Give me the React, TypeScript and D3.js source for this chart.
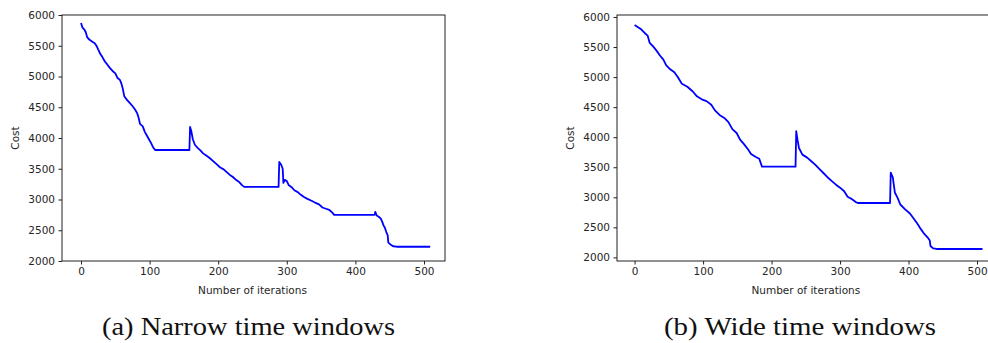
import React, { useEffect, useRef } from 'react';
import * as d3 from 'd3';

// [iteration, cost]
const narrowRun: [number, number][] = [
  [0, 5870], [2, 5800], [5, 5760], [7, 5720], [9, 5640], [12, 5600], [16, 5570], [20, 5540],
  [23, 5490], [25, 5440], [28, 5370], [31, 5320], [35, 5240], [38, 5200], [42, 5140], [46, 5090],
  [50, 5050], [53, 4980], [57, 4940], [59, 4880], [61, 4800], [63, 4680], [67, 4620], [71, 4570],
  [75, 4520], [79, 4460], [82, 4400], [84, 4330], [86, 4230], [90, 4190], [93, 4100], [96, 4040],
  [99, 3980], [102, 3920], [105, 3850], [108, 3805], [158, 3805], [159, 4180], [161, 4100],
  [163, 3980], [166, 3890], [170, 3840], [174, 3800], [178, 3750], [183, 3710], [188, 3670],
  [193, 3620], [198, 3570], [203, 3520], [208, 3490], [212, 3450], [217, 3400], [221, 3370],
  [226, 3320], [231, 3280], [235, 3230], [238, 3205], [288, 3205], [289, 3610], [292, 3560],
  [294, 3500], [295, 3270], [297, 3320], [300, 3300], [303, 3230], [307, 3200], [311, 3150],
  [316, 3120], [320, 3080], [325, 3040], [330, 3010], [336, 2980], [341, 2950], [347, 2920],
  [352, 2870], [357, 2850], [362, 2830], [366, 2790], [369, 2750], [428, 2750], [429, 2800],
  [431, 2740], [434, 2720], [437, 2690], [439, 2640], [441, 2580], [443, 2540], [445, 2470],
  [447, 2420], [448, 2300], [451, 2270], [455, 2240], [460, 2232], [509, 2232],
];

const wideRun: [number, number][] = [
  [0, 5865], [5, 5830], [10, 5790], [15, 5730], [19, 5690], [22, 5570], [27, 5510], [32, 5440],
  [37, 5360], [42, 5290], [46, 5200], [52, 5130], [58, 5080], [63, 5000], [69, 4890], [77, 4840],
  [85, 4760], [91, 4680], [98, 4630], [105, 4600], [112, 4540], [117, 4450], [124, 4370],
  [131, 4320], [137, 4250], [143, 4130], [149, 4070], [154, 3960], [160, 3880], [166, 3790],
  [170, 3720], [177, 3670], [182, 3640], [186, 3510], [235, 3510], [236, 4100], [238, 3950],
  [240, 3820], [245, 3710], [252, 3660], [258, 3600], [264, 3540], [270, 3470], [276, 3400],
  [282, 3330], [288, 3270], [294, 3210], [300, 3160], [306, 3100], [311, 3010], [317, 2970],
  [323, 2920], [326, 2905], [373, 2905], [374, 3410], [377, 3330], [380, 3080], [384, 2990],
  [388, 2880], [395, 2800], [402, 2730], [408, 2640], [413, 2560], [418, 2470], [423, 2390],
  [428, 2330], [431, 2280], [432, 2190], [436, 2150], [441, 2140], [508, 2140],
];

const xTicks = [0, 100, 200, 300, 400, 500];
const yTicks = [2000, 2500, 3000, 3500, 4000, 4500, 5000, 5500, 6000];
const captions = ['(a) Narrow time windows', '(b) Wide time windows'];

const tickFont = '"DejaVu Sans", sans-serif';

function Panel({ data, left, right, xDomain, yDomain, caption, captionX, captionWidth }) {
  const ref = useRef(null);

  useEffect(() => {
    const g = d3.select(ref.current);
    g.selectAll('*').remove();
    const top = 15;
    const bottom = 261;

    const x = d3.scaleLinear().domain(xDomain).range([left, right]);
    const y = d3.scaleLinear().domain(yDomain).range([bottom, top]);

    const xAxis = g.append('g')
      .attr('transform', `translate(0,${bottom})`)
      .call(d3.axisBottom(x).tickValues(xTicks).tickSize(3.5).tickPadding(3.5).tickFormat(d3.format('d')));
    const yAxis = g.append('g')
      .attr('transform', `translate(${left},0)`)
      .call(d3.axisLeft(y).tickValues(yTicks).tickSize(3.5).tickPadding(3.5).tickFormat(d3.format('d')));

    [xAxis, yAxis].forEach(a => {
      a.select('.domain').remove();
      a.selectAll('line').attr('stroke', '#222');
      a.selectAll('text')
        .attr('font-family', tickFont)
        .attr('font-size', 10.5)
        .attr('fill', '#262626');
    });

    const line = d3.line<[number, number]>()
      .x(d => x(d[0]))
      .y(d => y(d[1]));

    g.append('path')
      .attr('d', line(data))
      .attr('fill', 'none')
      .attr('stroke', '#0000ff')
      .attr('stroke-width', 1.8)
      .attr('stroke-linejoin', 'round');

    // axes frame
    g.append('rect')
      .attr('x', left)
      .attr('y', top)
      .attr('width', right - left)
      .attr('height', bottom - top)
      .attr('fill', 'none')
      .attr('stroke', '#222')
      .attr('stroke-width', 1);

    g.append('text')
      .attr('x', x(250))
      .attr('y', 294)
      .attr('text-anchor', 'middle')
      .attr('font-family', tickFont)
      .attr('font-size', 10.5)
      .attr('fill', '#262626')
      .text('Number of iterations');

    g.append('text')
      .attr('transform', `translate(${left - 43},${(top + bottom) / 2}) rotate(-90)`)
      .attr('text-anchor', 'middle')
      .attr('font-family', tickFont)
      .attr('font-size', 10.5)
      .attr('fill', '#262626')
      .text('Cost');

    g.append('text')
      .attr('x', captionX - captionWidth / 2)
      .attr('y', 335)
      .attr('textLength', captionWidth)
      .attr('lengthAdjust', 'spacingAndGlyphs')
      .attr('font-family', '"Liberation Serif", serif')
      .attr('font-size', 25.5)
      .attr('fill', '#111')
      .text(caption);
  }, []);

  return <g ref={ref} />;
}

export default function App() {
  return (
    <svg width={988} height={343} style={{ position: 'absolute', left: 0, top: 0, background: '#fff' }}>
      <Panel data={narrowRun} left={62} right={445} xDomain={[-27.7, 530.6]} yDomain={[2000, 6000]}
        caption={captions[0]} captionX={248.5} captionWidth={293} />
      <Panel data={wideRun} left={617} right={1001} xDomain={[-25.7, 535]} yDomain={[1940, 6033]}
        caption={captions[1]} captionX={800} captionWidth={272} />
    </svg>
  );
}
